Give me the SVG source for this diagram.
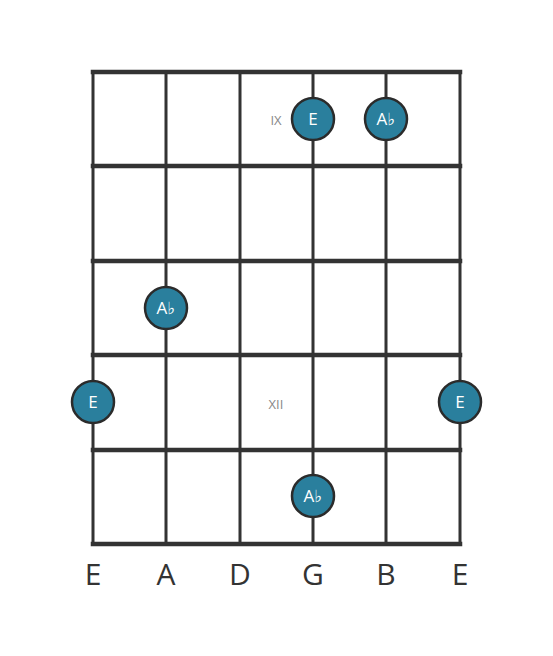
<svg xmlns="http://www.w3.org/2000/svg" width="553" height="656" viewBox="0 0 553 656">
<style>
.fret{stroke:#333;stroke-width:4.5;stroke-linecap:square}
.str{stroke:#333;stroke-width:3}
.dot{fill:#2a7f9d;stroke:#2b2b2b;stroke-width:2.5}
.dt{fill:#fff;font-family:"Open Sans","DejaVu Sans",sans-serif;font-size:17px;text-anchor:middle}
.fn{fill:#888;font-family:"Open Sans","DejaVu Sans",sans-serif;font-size:13px;text-anchor:middle}
.sn{fill:#333;font-family:"Open Sans","DejaVu Sans",sans-serif;font-size:30px;text-anchor:middle}
</style>
<rect width="553" height="656" fill="#fff"/>
<g id="connectors">
<line class="str" x1="93" y1="72" x2="93" y2="544"/>
<line class="str" x1="166" y1="72" x2="166" y2="544"/>
<line class="str" x1="240" y1="72" x2="240" y2="544"/>
<line class="str" x1="313" y1="72" x2="313" y2="544"/>
<line class="str" x1="386" y1="72" x2="386" y2="544"/>
<line class="str" x1="460" y1="72" x2="460" y2="544"/>
<line class="fret" x1="93" y1="72" x2="460" y2="72"/>
<line class="fret" x1="93" y1="166" x2="460" y2="166"/>
<line class="fret" x1="93" y1="261" x2="460" y2="261"/>
<line class="fret" x1="93" y1="355" x2="460" y2="355"/>
<line class="fret" x1="93" y1="450" x2="460" y2="450"/>
<line class="fret" x1="93" y1="544" x2="460" y2="544"/>
</g>
<text class="fn" x="276" y="125">IX</text>
<text class="fn" x="276" y="409">XII</text>
<g id="n1"><circle class="dot" cx="313" cy="119" r="21"/><text class="dt" x="313" y="125">E</text></g>
<g id="n2"><circle class="dot" cx="386" cy="119" r="21"/><text class="dt" x="386" y="125">A♭</text></g>
<g id="n3"><circle class="dot" cx="166" cy="308" r="21"/><text class="dt" x="166" y="314">A♭</text></g>
<g id="n4"><circle class="dot" cx="93" cy="402" r="21"/><text class="dt" x="93" y="408">E</text></g>
<g id="n5"><circle class="dot" cx="460" cy="402" r="21"/><text class="dt" x="460" y="408">E</text></g>
<g id="n6"><circle class="dot" cx="313" cy="496" r="21"/><text class="dt" x="313" y="502">A♭</text></g>
<g id="labels">
<text class="sn" x="93" y="585">E</text>
<text class="sn" x="166" y="585">A</text>
<text class="sn" x="240" y="585">D</text>
<text class="sn" x="313" y="585">G</text>
<text class="sn" x="386" y="585">B</text>
<text class="sn" x="460" y="585">E</text>
</g>
</svg>
